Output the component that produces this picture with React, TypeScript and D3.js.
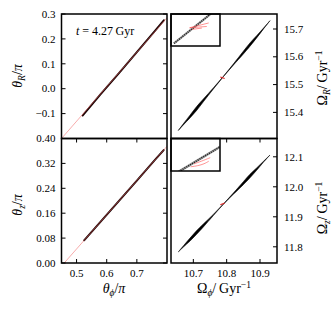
import React from 'react';
import * as d3 from 'd3';

// angle panels (units of pi)
const thetaPhiRed = [0.45, 0.8];
const thetaRRed = [-0.2, 0.285];
const thetaPhiBlackR = [0.52, 0.58, 0.64, 0.7, 0.76, 0.79];
const thetaRBlack = [-0.108, -0.022, 0.062, 0.147, 0.232, 0.275];

const thetaPhiRedZ = [0.459, 0.8];
const thetaZRed = [0, 0.375];
const thetaPhiBlackZ = [0.525, 0.58, 0.64, 0.7, 0.76, 0.789];
const thetaZBlack = [0.073, 0.133, 0.199, 0.265, 0.331, 0.363];

// frequency panels (Gyr^-1)
const omegaPhi = [10.655, 10.67, 10.69, 10.71, 10.73, 10.76, 10.79, 10.82, 10.85, 10.87, 10.89, 10.91, 10.93];
const omegaRUpper = [15.335, 15.359, 15.39, 15.421, 15.448, 15.488, 15.5295, 15.574, 15.62, 15.65, 15.676, 15.7025, 15.73];
const omegaRLower = [15.335, 15.355, 15.38, 15.407, 15.438, 15.484, 15.5285, 15.57, 15.61, 15.638, 15.668, 15.6995, 15.73];
const omegaZUpper = [11.783, 11.803, 11.829, 11.854, 11.876, 11.908, 11.9425, 11.979, 12.017, 12.042, 12.063, 12.0845, 12.106];
const omegaZLower = [11.783, 11.799, 11.819, 11.842, 11.866, 11.904, 11.9415, 11.975, 12.007, 12.03, 12.055, 12.0815, 12.106];
const omegaPhiRed = [10.781, 10.794];
const omegaRRed = [15.527, 15.522];
const omegaZRed = [11.94, 11.946];

// zoom insets (unit coordinates)
const insetRStreakX = [0.06, 0.84];
const insetRStreakY = [0.08, 1.04];
const insetRRedX = [[0.38, 0.77], [0.38, 0.73], [0.43, 0.63]];
const insetRRedY = [[0.57, 0.72], [0.57, 0.61], [0.52, 0.56]];
const insetZStreakX = [0.16, 1.04];
const insetZStreakY = [-0.02, 0.78];
const insetZRedX = [[0.4, 0.55, 0.68, 0.77], [0.47, 0.62, 0.8]];
const insetZRedY = [[0.13, 0.16, 0.22, 0.3], [0.22, 0.3, 0.41]];

// ticks
const thetaPhiTicks = [0.5, 0.6, 0.7];
const thetaRTicks = [-0.1, 0.0, 0.1, 0.2, 0.3];
const thetaZTicks = [0.0, 0.08, 0.16, 0.24, 0.32, 0.4];
const omegaPhiTicks = [10.7, 10.8, 10.9];
const omegaRTicks = [15.4, 15.5, 15.6, 15.7];
const omegaZTicks = [11.8, 11.9, 12.0, 12.1];

const FONT = 'Liberation Serif, DejaVu Serif, serif';
const L0 = 61.5, L1 = 167, R0 = 171, R1 = 277;
const T0 = 14, M = 138.5, B1 = 263;
const TL = 4;
const TICK_FS = 11;

export default function App() {
  const xTh = d3.scaleLinear().domain([0.45, 0.8]).range([L0, L1]);
  const yThR = d3.scaleLinear().domain([-0.2, 0.3]).range([M, T0]);
  const yThZ = d3.scaleLinear().domain([0, 0.4]).range([B1, M]);
  const xOm = d3.scaleLinear().domain([10.633, 10.951]).range([R0, R1]);
  const yOmR = d3.scaleLinear().domain([15.306, 15.754]).range([M, T0]);
  const yOmZ = d3.scaleLinear().domain([11.746, 12.161]).range([B1, M]);

  const line = (xs: number[], ys: number[], sx: any, sy: any) =>
    d3.line<number>().x((d) => sx(xs[d])).y((d) => sy(ys[d]))(xs.map((_, i) => i)) || '';
  const area = (xs: number[], lo: number[], hi: number[], sx: any, sy: any) =>
    d3.area<number>().x((d) => sx(xs[d])).y0((d) => sy(lo[d])).y1((d) => sy(hi[d])).curve(d3.curveCatmullRom)(xs.map((_, i) => i)) || '';

  const insR = { x: d3.scaleLinear().domain([0, 1]).range([R0, 220]), y: d3.scaleLinear().domain([0, 1]).range([46, T0]) };
  const insZ = { x: d3.scaleLinear().domain([0, 1]).range([R0, 220]), y: d3.scaleLinear().domain([0, 1]).range([171, M]) };

  const f1 = d3.format('.1f');
  const f2 = d3.format('.2f');
  const minus = (s: string) => s.replace('-', '\u2212');

  const redC = '#f06060';

  const yTicksBoth = (ticks: number[], sy: any, fmt: any, x0: number, x1: number) =>
    ticks.map((t) => (
      <g key={t}>
        <line x1={x0} x2={x0 + TL} y1={sy(t)} y2={sy(t)} stroke="#000" />
        <line x1={x1} x2={x1 - TL} y1={sy(t)} y2={sy(t)} stroke="#000" />
        <text x={x0 - 6} y={sy(t) + 3.7} textAnchor="end" fontSize={TICK_FS}>{minus(fmt(t))}</text>
      </g>
    ));
  const yTicksRight = (ticks: number[], sy: any, fmt: any, x1: number) =>
    ticks.map((t) => (
      <g key={t}>
        <line x1={x1} x2={x1 - TL} y1={sy(t)} y2={sy(t)} stroke="#000" />
        <text x={x1 + 7} y={sy(t) + 3.7} textAnchor="start" fontSize={TICK_FS}>{fmt(t)}</text>
      </g>
    ));
  const xTicks = (ticks: number[], sx: any, fmt: any) =>
    ticks.map((t) => (
      <g key={t}>
        <line x1={sx(t)} x2={sx(t)} y1={M} y2={M + TL} stroke="#000" />
        <line x1={sx(t)} x2={sx(t)} y1={B1} y2={B1 - TL} stroke="#000" />
        <text x={sx(t)} y={276.5} textAnchor="middle" fontSize={TICK_FS}>{fmt(t)}</text>
      </g>
    ));

  return (
    <svg width={336} height={310} style={{ position: 'absolute', left: 0, top: 0, background: '#fff' }} fontFamily={FONT}>
      <defs>
        <clipPath id="cTL"><rect x={L0} y={T0} width={L1 - L0} height={M - T0} /></clipPath>
        <clipPath id="cBL"><rect x={L0} y={M} width={L1 - L0} height={B1 - M} /></clipPath>
        <clipPath id="cIR"><rect x={R0} y={T0} width={49} height={32} /></clipPath>
        <clipPath id="cIZ"><rect x={R0} y={M} width={49} height={32.5} /></clipPath>
      </defs>

      {/* top-left: theta_R vs theta_phi */}
      <g clipPath="url(#cTL)">
        <path d={line(thetaPhiBlackR, thetaRBlack, xTh, yThR)} fill="none" stroke="#1a0505" strokeWidth={1.9} strokeLinecap="round" />
        <path d={line(thetaPhiRed, thetaRRed, xTh, yThR)} fill="none" stroke={redC} strokeWidth={0.7} opacity={0.75} />
      </g>
      {/* bottom-left: theta_z vs theta_phi */}
      <g clipPath="url(#cBL)">
        <path d={line(thetaPhiBlackZ, thetaZBlack, xTh, yThZ)} fill="none" stroke="#1a0505" strokeWidth={1.9} strokeLinecap="round" />
        <path d={line(thetaPhiRedZ, thetaZRed, xTh, yThZ)} fill="none" stroke={redC} strokeWidth={0.7} opacity={0.75} />
      </g>

      {/* right: frequency streaks */}
      <path d={area(omegaPhi, omegaRLower, omegaRUpper, xOm, yOmR)} fill="#000" stroke="#000" strokeWidth={0.6} />
      <path d={line(omegaPhiRed, omegaRRed, xOm, yOmR)} stroke="#e02020" strokeWidth={1.1} fill="none" />
      <path d={area(omegaPhi, omegaZLower, omegaZUpper, xOm, yOmZ)} fill="#000" stroke="#000" strokeWidth={0.6} />
      <path d={line(omegaPhiRed, omegaZRed, xOm, yOmZ)} stroke="#e02020" strokeWidth={1.1} fill="none" />

      {/* ticks and labels */}
      <g fill="#000">
        {yTicksBoth(thetaRTicks, yThR, f1, L0, L1)}
        {yTicksBoth(thetaZTicks, yThZ, f2, L0, L1)}
        {xTicks(thetaPhiTicks, xTh, f1)}
        {yTicksRight(omegaRTicks, yOmR, f1, R1)}
        {yTicksRight(omegaZTicks, yOmZ, f1, R1)}
        {xTicks(omegaPhiTicks, xOm, f1)}
      </g>

      {/* insets */}
      <rect x={R0} y={T0} width={49} height={32} fill="#fff" />
      <g clipPath="url(#cIR)">
        <path d={line(insetRStreakX, insetRStreakY, insR.x, insR.y)} stroke="#999" strokeWidth={2.2} fill="none" />
        <path d={line(insetRStreakX, insetRStreakY, insR.x, insR.y)} stroke="#222" strokeWidth={1.6} strokeDasharray="1 1.2" fill="none" />
        {insetRRedX.map((xs, i) => (
          <path key={i} d={line(xs, insetRRedY[i], insR.x, insR.y)} stroke="#f55" strokeWidth={0.8} opacity={0.8} fill="none" />
        ))}
      </g>
      <rect x={R0} y={T0} width={49} height={32} fill="none" stroke="#000" strokeWidth={1.5} />

      <rect x={R0} y={M} width={49} height={32.5} fill="#fff" />
      <g clipPath="url(#cIZ)">
        <path d={line(insetZStreakX, insetZStreakY, insZ.x, insZ.y)} stroke="#999" strokeWidth={2.4} fill="none" />
        <path d={line(insetZStreakX, insetZStreakY, insZ.x, insZ.y)} stroke="#222" strokeWidth={1.6} strokeDasharray="1 1.2" fill="none" />
        {insetZRedX.map((xs, i) => (
          <path key={i} d={d3.line<number>().x((d) => insZ.x(xs[d])).y((d) => insZ.y(insetZRedY[i][d])).curve(d3.curveBasis)(xs.map((_, j) => j)) || ''} stroke="#f55" strokeWidth={0.8} opacity={0.8} fill="none" />
        ))}
      </g>
      <rect x={R0} y={M} width={49} height={32.5} fill="none" stroke="#000" strokeWidth={1.5} />

      {/* frames */}
      <rect x={L0} y={T0} width={L1 - L0} height={M - T0} fill="none" stroke="#000" strokeWidth={1.5} />
      <rect x={L0} y={M} width={L1 - L0} height={B1 - M} fill="none" stroke="#000" strokeWidth={1.5} />
      <rect x={R0} y={T0} width={R1 - R0} height={M - T0} fill="none" stroke="#000" strokeWidth={1.5} />
      <rect x={R0} y={M} width={R1 - R0} height={B1 - M} fill="none" stroke="#000" strokeWidth={1.5} />

      {/* annotation */}
      <text x={76} y={35} fontSize={12}>
        <tspan fontStyle="italic">t</tspan> = 4.27{'\u2009'}Gyr
      </text>

      {/* axis labels */}
      <text transform="translate(22,76) rotate(-90)" textAnchor="middle" fontSize={14}>
        <tspan fontStyle="italic">θ</tspan>
        <tspan fontStyle="italic" fontSize={9.5} dy={3}>R</tspan>
        <tspan dy={-3}>/</tspan>
        <tspan fontStyle="italic">π</tspan>
      </text>
      <text transform="translate(22,205) rotate(-90)" textAnchor="middle" fontSize={14}>
        <tspan fontStyle="italic">θ</tspan>
        <tspan fontStyle="italic" fontSize={9.5} dy={3}>z</tspan>
        <tspan dy={-3}>/</tspan>
        <tspan fontStyle="italic">π</tspan>
      </text>
      <text x={114} y={293} textAnchor="middle" fontSize={14}>
        <tspan fontStyle="italic">θ</tspan>
        <tspan fontStyle="italic" fontSize={9.5} dy={3}>ϕ</tspan>
        <tspan dy={-3}>/</tspan>
        <tspan fontStyle="italic">π</tspan>
      </text>
      <text x={224} y={293} textAnchor="middle" fontSize={14}>
        <tspan>Ω</tspan>
        <tspan fontStyle="italic" fontSize={9.5} dy={3}>ϕ</tspan>
        <tspan dy={-3}>/</tspan>
        <tspan>{'\u2009'}Gyr</tspan>
        <tspan fontSize={9.5} dy={-5}>−1</tspan>
      </text>
      <text transform="translate(327,78) rotate(-90)" textAnchor="middle" fontSize={14}>
        <tspan>Ω</tspan>
        <tspan fontStyle="italic" fontSize={9.5} dy={3}>R</tspan>
        <tspan dy={-3}>/</tspan>
        <tspan>{'\u2009'}Gyr</tspan>
        <tspan fontSize={9.5} dy={-5}>−1</tspan>
      </text>
      <text transform="translate(327,208) rotate(-90)" textAnchor="middle" fontSize={14}>
        <tspan>Ω</tspan>
        <tspan fontStyle="italic" fontSize={9.5} dy={3}>z</tspan>
        <tspan dy={-3}>/</tspan>
        <tspan>{'\u2009'}Gyr</tspan>
        <tspan fontSize={9.5} dy={-5}>−1</tspan>
      </text>
    </svg>
  );
}
